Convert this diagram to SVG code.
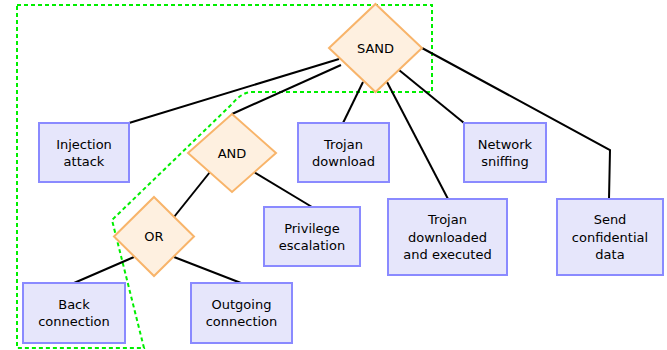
<svg xmlns="http://www.w3.org/2000/svg" width="667" height="350" viewBox="0 0 667 350">
<style>
.box{fill:#e6e6fb;stroke:#8a8aff;stroke-width:2}
.dia{fill:#fef0e0;stroke:#f8b46a;stroke-width:2}
.edge{stroke:#000;stroke-width:2;fill:none}
text{font-family:"DejaVu Sans",sans-serif;font-size:13px;fill:#000;text-anchor:middle}
</style>
<rect width="667" height="350" fill="#fff"/>
<path d="M17,5 H432 V92 H252 Q242,92 232,104 L112,220 L144,348 H17 Z" fill="none" stroke="#00ee00" stroke-width="2" stroke-dasharray="4,3"/>
<g id="connectors">
<line class="edge" x1="339" y1="59" x2="129" y2="123"/>
<line class="edge" x1="341" y1="65" x2="232" y2="114"/>
<line class="edge" x1="363" y1="82" x2="343" y2="123"/>
<line class="edge" x1="387" y1="82" x2="448" y2="199"/>
<line class="edge" x1="399" y1="70" x2="464" y2="123"/>
<polyline class="edge" points="422,48 610,150 609,199"/>
<line class="edge" x1="210" y1="172" x2="174" y2="217"/>
<line class="edge" x1="254" y1="172" x2="312" y2="207"/>
<line class="edge" x1="134" y1="257" x2="74" y2="283"/>
<line class="edge" x1="174" y1="257" x2="241" y2="283"/>
</g>
<g id="sand"><polygon class="dia" points="375.5,4 422,48 375.5,92 329,48"/><text x="375.5" y="52.5">SAND</text></g>
<g id="and"><polygon class="dia" points="232,114 276,153 232,192 188,153"/><text x="232" y="157.5">AND</text></g>
<g id="or"><polygon class="dia" points="154,197 194,236.5 154,276 114,236.5"/><text x="154" y="241">OR</text></g>
<g id="injection"><rect class="box" x="39" y="123" width="90" height="59"/><text x="84" y="148.5">Injection</text><text x="84" y="165.5">attack</text></g>
<g id="trojan-download"><rect class="box" x="298" y="123" width="91" height="59"/><text x="343.5" y="148.5">Trojan</text><text x="343.5" y="165.5">download</text></g>
<g id="network-sniffing"><rect class="box" x="464" y="123" width="82" height="59"/><text x="505" y="148.5">Network</text><text x="505" y="165.5">sniffing</text></g>
<g id="privilege"><rect class="box" x="264" y="207" width="96" height="59"/><text x="312" y="232.5">Privilege</text><text x="312" y="249.5">escalation</text></g>
<g id="trojan-executed"><rect class="box" x="388" y="199" width="119" height="76"/><text x="447.5" y="224">Trojan</text><text x="447.5" y="241.5">downloaded</text><text x="447.5" y="259">and executed</text></g>
<g id="send"><rect class="box" x="557" y="199" width="106" height="76"/><text x="610" y="224">Send</text><text x="610" y="241.5">confidential</text><text x="610" y="259">data</text></g>
<g id="back"><rect class="box" x="23" y="283" width="102" height="60"/><text x="74" y="308.5">Back</text><text x="74" y="325.5">connection</text></g>
<g id="outgoing"><rect class="box" x="191" y="283" width="101" height="60"/><text x="241.5" y="308.5">Outgoing</text><text x="241.5" y="325.5">connection</text></g>
</svg>
